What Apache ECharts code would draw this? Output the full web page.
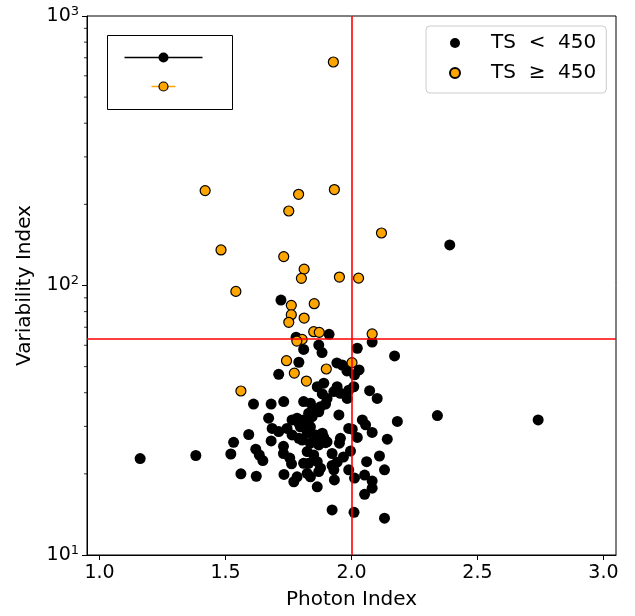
<!DOCTYPE html>
<html>
<head>
<meta charset="utf-8">
<script src="https://cdn.jsdelivr.net/npm/echarts@6/dist/echarts.min.js"></script>
<style>
html,body{margin:0;padding:0;background:#fff;}
#chart{width:635px;height:616px;}
</style>
</head>
<body>
<div id="chart"></div>
<script>
// ---- Data ----
const lowTS_photon = [2.390,1.720,1.911,1.780,2.082,2.023,1.870,1.883,1.810,2.171,1.791,1.942,1.963,1.982,2.030,2.012,1.711,1.890,1.864,1.943,1.930,1.956,1.983,1.989,2.009,2.072,2.102,1.884,1.903,1.897,1.877,1.857,1.810,1.837,1.611,1.681,1.731,1.671,1.685,1.711,1.744,1.764,1.784,1.810,1.830,1.844,1.791,1.837,1.857,1.864,1.884,1.903,1.870,1.950,2.182,2.341,2.741,2.043,2.056,1.989,2.003,2.082,2.023,2.142,1.952,1.923,1.996,1.968,1.943,1.923,2.111,2.060,2.131,1.989,2.012,2.052,2.082,2.082,2.052,1.932,1.923,2.010,2.131,1.161,1.382,1.532,1.521,1.592,1.561,1.622,1.620,1.634,1.648,1.681,1.730,1.730,1.755,1.762,1.732,1.771,1.864,1.810,1.824,1.870,1.837,1.870,1.897,1.824,1.850,1.864,1.830,1.877,1.784,1.837,1.797,1.830,1.877,1.824,1.890,1.956,1.764,1.791,1.804,1.930];
const lowTS_var = [141.4,88.3,65.9,64.3,61.7,58.5,60.1,56.4,57.9,54.8,51.9,51.6,50.7,48.2,48.6,46.6,46.8,43.4,42.1,42.1,40.4,39.8,38.1,40.9,42.1,40.7,38.1,39.6,38.1,36.3,35.5,34.5,37.1,36.6,36.3,36.3,37.1,32.2,29.5,28.7,29.5,31.7,32.2,31.7,33.6,32.6,30.8,29.9,27.9,27.1,28.3,26.3,34.0,33.1,31.3,32.9,31.7,31.7,30.4,29.5,29.3,28.5,27.3,26.9,26.0,23.8,24.3,23.1,22.1,21.5,23.3,22.2,20.7,20.7,19.3,19.8,18.8,17.7,16.8,19.0,14.7,14.4,13.7,22.8,23.4,26.2,23.7,28.0,20.0,19.6,24.7,23.5,22.4,26.5,25.3,23.8,22.9,21.8,19.9,18.7,17.9,21.9,20.1,20.4,26.0,25.6,26.1,24.2,23.5,22.2,21.9,21.0,19.5,19.5,29.9,30.4,26.3,28.3,27.3,27.1,27.9,27.1,26.7,20.7];
const highTS_photon = [1.928,1.419,1.790,1.932,1.751,2.119,1.482,1.731,1.812,1.801,1.952,2.028,1.541,1.761,1.852,1.761,1.812,1.751,1.850,1.872,1.804,1.783,2.082,1.742,2.002,1.773,1.821,1.900,1.561];
const highTS_var = [675,225,218,227,189,156.6,135.5,128,115,106.3,107.5,106.5,95.1,84.4,85.6,77.9,75.7,73,67.4,67,63.1,62.2,66.1,52.6,51.7,47.3,44.2,49,40.6];
const seriesNames = ['TS  <  450', 'TS  \u2265  450'];
const xTicks = [1.0, 1.5, 2.0, 2.5, 3.0];
const xRange = [0.95, 3.05];
const yRange = [10, 1000];
const minorYTicks = [20,30,40,50,60,70,80,90,200,300,400,500,600,700,800,900];
const photonThreshold = 2.0;
const varThreshold = 63.2;

const zip = (a, b) => a.map((v, i) => [v, b[i]]);
const FONT = 'DejaVu Sans';

const chart = echarts.init(document.getElementById('chart'), null, {renderer: 'canvas'});
const option = {
  animation: false,
  backgroundColor: '#fff',
  grid: {left: 87, right: 19, top: 16, bottom: 61, show: true, borderColor: '#000', borderWidth: 1},
  legend: {
    data: seriesNames,
    orient: 'vertical',
    left: 426, top: 26,
    padding: [7, 10, 10, 23],
    itemWidth: 10, itemHeight: 10,
    itemGap: 10,
    backgroundColor: '#fff',
    borderColor: '#cccccc', borderWidth: 1, borderRadius: 4,
    textStyle: {fontFamily: FONT, fontSize: 20, color: '#000', lineHeight: 20, padding: [0, 0, 0, 26]}
  },
  xAxis: {
    type: 'value', min: xRange[0], max: xRange[1],
    name: 'Photon Index', nameLocation: 'middle', nameGap: 35,
    nameTextStyle: {fontFamily: FONT, fontSize: 20, color: '#000'},
    axisLine: {show: true, lineStyle: {color: '#000', width: 1}},
    axisTick: {show: true, length: 5, lineStyle: {color: '#000', width: 1}, customValues: xTicks},
    axisLabel: {fontFamily: FONT, fontSize: 19, color: '#000', margin: 9, customValues: xTicks,
      formatter: v => v.toFixed(1)},
    splitLine: {show: false}
  },
  yAxis: {
    type: 'log', logBase: 10, min: yRange[0], max: yRange[1],
    name: 'Variability Index', nameLocation: 'middle', nameGap: 52,
    nameTextStyle: {fontFamily: FONT, fontSize: 20, color: '#000'},
    axisLine: {show: true, lineStyle: {color: '#000', width: 1}},
    axisTick: {show: true, length: 5, lineStyle: {color: '#000', width: 1}},
    axisLabel: {
      margin: 8, color: '#000',
      formatter: v => '{b|10}{s|' + Math.round(Math.log10(v)) + '}',
      rich: {
        b: {fontFamily: FONT, fontSize: 19, color: '#000', lineHeight: 22},
        s: {fontFamily: FONT, fontSize: 13, color: '#000', verticalAlign: 'top', lineHeight: 14}
      }
    },
    splitLine: {show: false}
  },
  series: [
    {
      name: 'thresholds', type: 'line', data: [], z: 1, silent: true,
      markLine: {
        silent: true, symbol: 'none', label: {show: false}, animation: false,
        lineStyle: {color: '#ff0000', width: 1.6, type: 'solid'},
        data: [{xAxis: photonThreshold}, {yAxis: varThreshold}]
      }
    },
    {
      name: 'minorTicks', type: 'custom', silent: true, clip: false, z: 5,
      data: minorYTicks.map(v => [xRange[0], v]),
      renderItem: (params, api) => {
        const p = api.coord([api.value(0), api.value(1)]);
        return {type: 'line', shape: {x1: p[0], y1: p[1], x2: p[0] - 3, y2: p[1]},
          style: {stroke: '#000', lineWidth: 0.8}};
      }
    },
    {
      name: seriesNames[0], type: 'scatter', z: 2,
      data: zip(lowTS_photon, lowTS_var),
      symbol: 'circle', symbolSize: 11,
      itemStyle: {color: '#000', opacity: 1}
    },
    {
      name: seriesNames[1], type: 'scatter', z: 3,
      data: zip(highTS_photon, highTS_var),
      symbol: 'circle', symbolSize: 10,
      itemStyle: {color: '#ffa500', borderColor: '#000', borderWidth: 1.2, opacity: 1}
    }
  ],
  graphic: [
    {
      type: 'group', left: 107, top: 35, silent: true,
      children: [
        {type: 'rect', shape: {x: 0, y: 0, width: 125, height: 74}, style: {fill: '#fff', stroke: '#000', lineWidth: 1}},
        {type: 'line', shape: {x1: 17, y1: 22, x2: 95, y2: 22}, style: {stroke: '#000', lineWidth: 1.5}},
        {type: 'circle', shape: {cx: 56, cy: 22, r: 5}, style: {fill: '#000'}},
        {type: 'line', shape: {x1: 44, y1: 51, x2: 68, y2: 51}, style: {stroke: '#ffa500', lineWidth: 1.5}},
        {type: 'circle', shape: {cx: 56, cy: 51, r: 4.5}, style: {fill: '#ffa500', stroke: '#000', lineWidth: 1.2}}
      ]
    }
  ]
};
chart.setOption(option);
</script>
</body>
</html>
